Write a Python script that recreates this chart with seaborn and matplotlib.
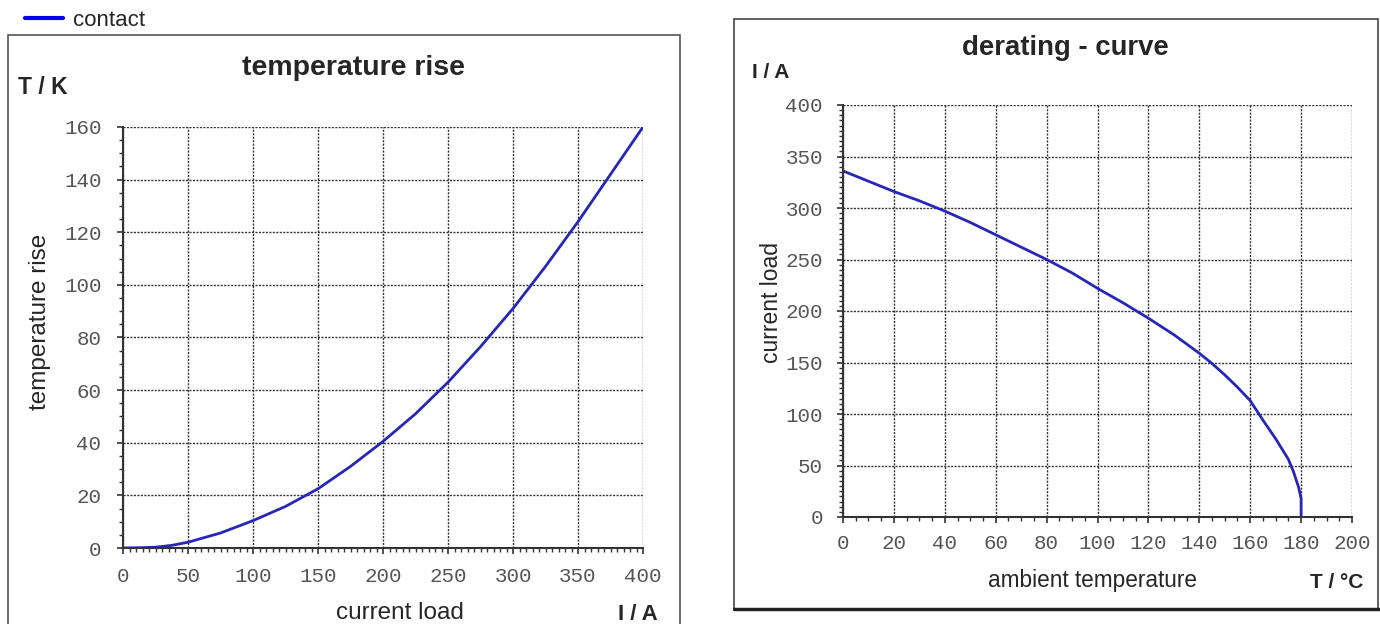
import numpy as np
import pandas as pd
import matplotlib
matplotlib.use("Agg")
import matplotlib.pyplot as plt
import seaborn as sns
from matplotlib.patches import Rectangle
from matplotlib.ticker import MultipleLocator

# ---- data ----
current_load = [0, 12.5, 25, 37.5, 50, 75, 100, 125, 150, 175, 200, 225, 250, 275, 300, 325, 350, 375, 400]
temp_rise = [0, 0.1, 0.3, 1.0, 2.2, 5.7, 10.4, 15.8, 22.5, 31, 40.5, 51, 63, 76.5, 91, 107, 124, 142, 160]

ambient_temp = [0, 10, 20, 30, 40, 50, 60, 70, 80, 90, 100, 110, 120, 130, 140, 145, 150, 155, 160, 165, 170, 175, 177, 179, 180, 180]
derate_load = [336, 326, 316, 307, 297, 286, 274, 262, 250, 237, 222, 208, 193, 177, 159, 149, 138, 126, 113, 94, 76, 56, 44, 29, 18, 0]

left_xticks = [0, 50, 100, 150, 200, 250, 300, 350, 400]
left_yticks = [0, 20, 40, 60, 80, 100, 120, 140, 160]
right_xticks = [0, 20, 40, 60, 80, 100, 120, 140, 160, 180, 200]
right_yticks = [0, 50, 100, 150, 200, 250, 300, 350, 400]

W, H = 1380, 624
sns.set_style("white")
plt.rcParams['font.family'] = ['Liberation Sans', 'DejaVu Sans']

fig = plt.figure(figsize=(W / 100, H / 100), dpi=100)

def fx(px):
    return px / W

def fy(py):
    return 1 - py / H

line_color = "#2626b8"
tick_font = dict(family="Liberation Mono", size=15, color="#555555")


def style_axes(ax, xt, yt, xminor, yminor, xpad, ypad):
    ax.set_xlim(xt[0], xt[-1])
    ax.set_ylim(yt[0], yt[-1])
    ax.set_xticks(xt)
    ax.set_yticks(yt)
    ax.xaxis.set_minor_locator(MultipleLocator(xminor))
    ax.yaxis.set_minor_locator(MultipleLocator(yminor))
    ax.set_xticklabels([str(v) for v in xt], fontdict=tick_font)
    ax.set_yticklabels([str(v) for v in yt], fontdict=tick_font)
    ax.tick_params(which="major", direction="out", length=4.5, width=1.2, color="#333333",
                   bottom=True, left=True)
    ax.tick_params(axis="x", which="major", pad=xpad)
    ax.tick_params(axis="y", which="major", pad=ypad)
    ax.tick_params(which="minor", direction="out", length=3, width=1.0, color="#333333",
                   bottom=True, left=True)
    ax.grid(True, which="major", color="#333333", linestyle=(0, (1.5, 1)), linewidth=1.0)
    ax.spines["top"].set_visible(False)
    ax.spines["right"].set_visible(False)
    for s in ("left", "bottom"):
        ax.spines[s].set_color("#333333")
        ax.spines[s].set_linewidth(1.5)
    ax.set_xlabel("")
    ax.set_ylabel("")
    ax.set_facecolor("white")


# ---- left chart ----
ax1 = fig.add_axes([fx(123), fy(548), fx(643) - fx(123), fy(127) - fy(548)])
df1 = pd.DataFrame({"current load": current_load, "temperature rise": temp_rise})
sns.lineplot(data=df1, x="current load", y="temperature rise", ax=ax1, color=line_color,
             linewidth=2, label="contact", legend=False, estimator=None)
style_axes(ax1, left_xticks, left_yticks, 5, 5, xpad=9, ypad=11)

# ---- right chart ----
ax2 = fig.add_axes([fx(843), fy(517), fx(1352) - fx(843), fy(105) - fy(517)])
df2 = pd.DataFrame({"ambient temperature": ambient_temp, "current load": derate_load})
sns.lineplot(data=df2, x="ambient temperature", y="current load", ax=ax2, color=line_color,
             linewidth=2, sort=False, legend=False, estimator=None)
style_axes(ax2, right_xticks, right_yticks, 5, 5, xpad=8, ypad=10)

# ---- panel frames ----
fig.add_artist(Rectangle((fx(8), fy(640)), fx(680) - fx(8), fy(35) - fy(640),
                         transform=fig.transFigure, fill=False, edgecolor="#555555", linewidth=1.2))
fig.add_artist(Rectangle((fx(734), fy(609)), fx(1378) - fx(734), fy(19) - fy(609),
                         transform=fig.transFigure, fill=False, edgecolor="#444444", linewidth=1.2))
fig.add_artist(plt.Line2D([fx(734), fx(1380)], [fy(609), fy(609)], transform=fig.transFigure,
                          color="#222222", linewidth=2.5))

# ---- texts ----
fig.text(fx(353), fy(68), "temperature rise", ha="center", va="center", fontsize=20.5, fontweight="bold")
fig.text(fx(18), fy(87), "T / K", ha="left", va="center", fontsize=16.5, fontweight="bold")
fig.text(fx(40), fy(322), "temperature rise", ha="center", va="center", rotation=90, fontsize=17.5)
fig.text(fx(400), fy(613), "current load", ha="center", va="center", fontsize=17.5)
fig.text(fx(638), fy(615), "I / A", ha="center", va="center", fontsize=16, fontweight="bold")

fig.text(fx(1065), fy(48), "derating - curve", ha="center", va="center", fontsize=19.8, fontweight="bold")
fig.text(fx(752), fy(72), "I / A", ha="left", va="center", fontsize=15, fontweight="bold")
fig.text(fx(771), fy(302), "current load", ha="center", va="center", rotation=90, fontsize=16.5)
fig.text(fx(1093), fy(580), "ambient temperature", ha="center", va="center", fontsize=16.3)
fig.text(fx(1337), fy(582), "T / °C", ha="center", va="center", fontsize=15, fontweight="bold")

# ---- legend ----
h, l = ax1.get_legend_handles_labels()
leg = fig.legend(h, l, loc="center left", bbox_to_anchor=(fx(25), fy(20)), frameon=False,
                 fontsize=16, handlelength=1.7, handletextpad=0.45, borderaxespad=0, borderpad=0)
for lh in leg.get_lines():
    lh.set_color("#0000ee")
    lh.set_linewidth(3)

fig.savefig("out.png", dpi=100, facecolor="white")
